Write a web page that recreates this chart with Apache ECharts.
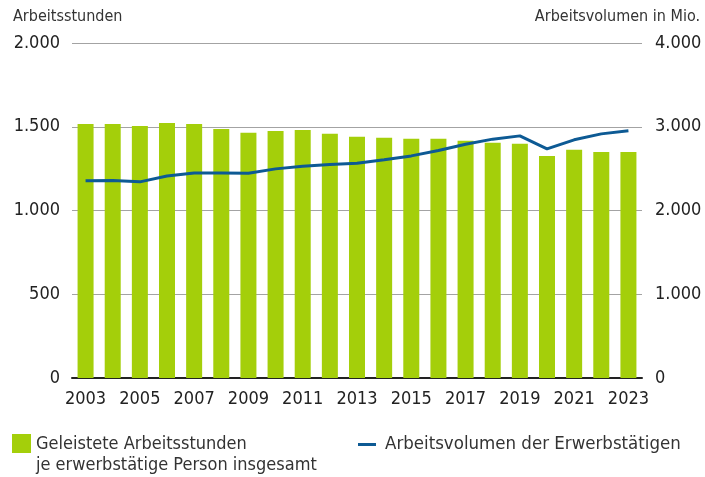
<!DOCTYPE html>
<html>
<head>
<meta charset="utf-8">
<script src="https://cdn.jsdelivr.net/npm/echarts@6/dist/echarts.min.js"></script>
<style>
  html, body { margin: 0; padding: 0; background: #fff; }
  #main { width: 705px; height: 477px; }
</style>
</head>
<body>
<div id="main"></div>
<script>
// Jahre
var years = ['2003', '2004', '2005', '2006', '2007', '2008', '2009', '2010', '2011', '2012', '2013',
  '2014', '2015', '2016', '2017', '2018', '2019', '2020', '2021', '2022', '2023'];
// Geleistete Arbeitsstunden je Person
var stunden = [1517, 1517, 1505, 1523, 1517, 1487, 1464, 1475, 1481, 1458, 1440,
  1434, 1428, 1428, 1416, 1404, 1398, 1326, 1362, 1350, 1350];
// Arbeitsvolumen in Mio.
var volumen = [2354, 2358, 2342, 2413, 2449, 2449, 2445, 2497, 2529, 2549, 2565,
  2605, 2652, 2716, 2792, 2852, 2891, 2736, 2844, 2915, 2951];

var nameBars = 'Geleistete Arbeitsstunden\nje erwerbstätige Person insgesamt';
var nameLine = 'Arbeitsvolumen der Erwerbstätigen';

var font = '"Liberation Sans Narrow", "DejaVu Sans Condensed", "Roboto", sans-serif';

function fmt(v) {
  return String(v).replace(/\B(?=(\d{3})+(?!\d))/g, '.');
}

var chart = echarts.init(document.getElementById('main'));
chart.setOption({
  animation: false,
  textStyle: { fontFamily: font },
  title: [
    { text: 'Arbeitsstunden', left: 8, top: 4,
      textStyle: { fontSize: 16, fontWeight: 'normal', color: '#333', fontFamily: font } },
    { text: 'Arbeitsvolumen in Mio.', right: 0, top: 4,
      textStyle: { fontSize: 16, fontWeight: 'normal', color: '#333', fontFamily: font } }
  ],
  grid: { left: 72, right: 63, top: 43, bottom: 99 },
  legend: [
    {
      // Quadrat oben, damit es neben der ersten Zeile steht
      data: [nameBars], left: 12, top: 434, padding: 0,
      icon: 'path://M0,0H19V19H0Z M0,42L0.01,42',
      itemWidth: 19, itemHeight: 42,
      textStyle: { fontSize: 18, lineHeight: 21, color: '#333', fontFamily: font }
    },
    {
      data: [nameLine], left: 358, top: 434, padding: 0,
      icon: 'path://M0,0H18V3H0Z M22,0L22.01,0',
      itemWidth: 22, itemHeight: 3,
      textStyle: { fontSize: 18.5, lineHeight: 21, color: '#333', fontFamily: font }
    }
  ],
  xAxis: {
    type: 'category',
    data: years,
    axisTick: { show: false },
    axisLine: { lineStyle: { color: '#222', width: 2 } },
    axisLabel: { interval: 1, fontSize: 18, color: '#222', margin: 12, fontFamily: font }
  },
  yAxis: [
    {
      type: 'value', min: 0, max: 2000, interval: 500,
      axisLabel: { formatter: fmt, fontSize: 18, color: '#222', margin: 12, fontFamily: font },
      splitLine: { lineStyle: { color: '#a3a3a3', width: 1 } },
      axisLine: { show: false }, axisTick: { show: false }
    },
    {
      type: 'value', min: 0, max: 4000, interval: 1000,
      axisLabel: { formatter: fmt, fontSize: 18, color: '#222', margin: 13, fontFamily: font },
      splitLine: { show: false },
      axisLine: { show: false }, axisTick: { show: false }
    }
  ],
  series: [
    {
      name: nameBars, type: 'bar', data: stunden,
      barWidth: 16,
      itemStyle: { color: '#a4cf0a' }
    },
    {
      name: nameLine, type: 'line', yAxisIndex: 1, data: volumen,
      showSymbol: false, symbol: 'none',
      lineStyle: { color: '#0d5a94', width: 3 },
      itemStyle: { color: '#0d5a94' }
    }
  ]
});
</script>
</body>
</html>
